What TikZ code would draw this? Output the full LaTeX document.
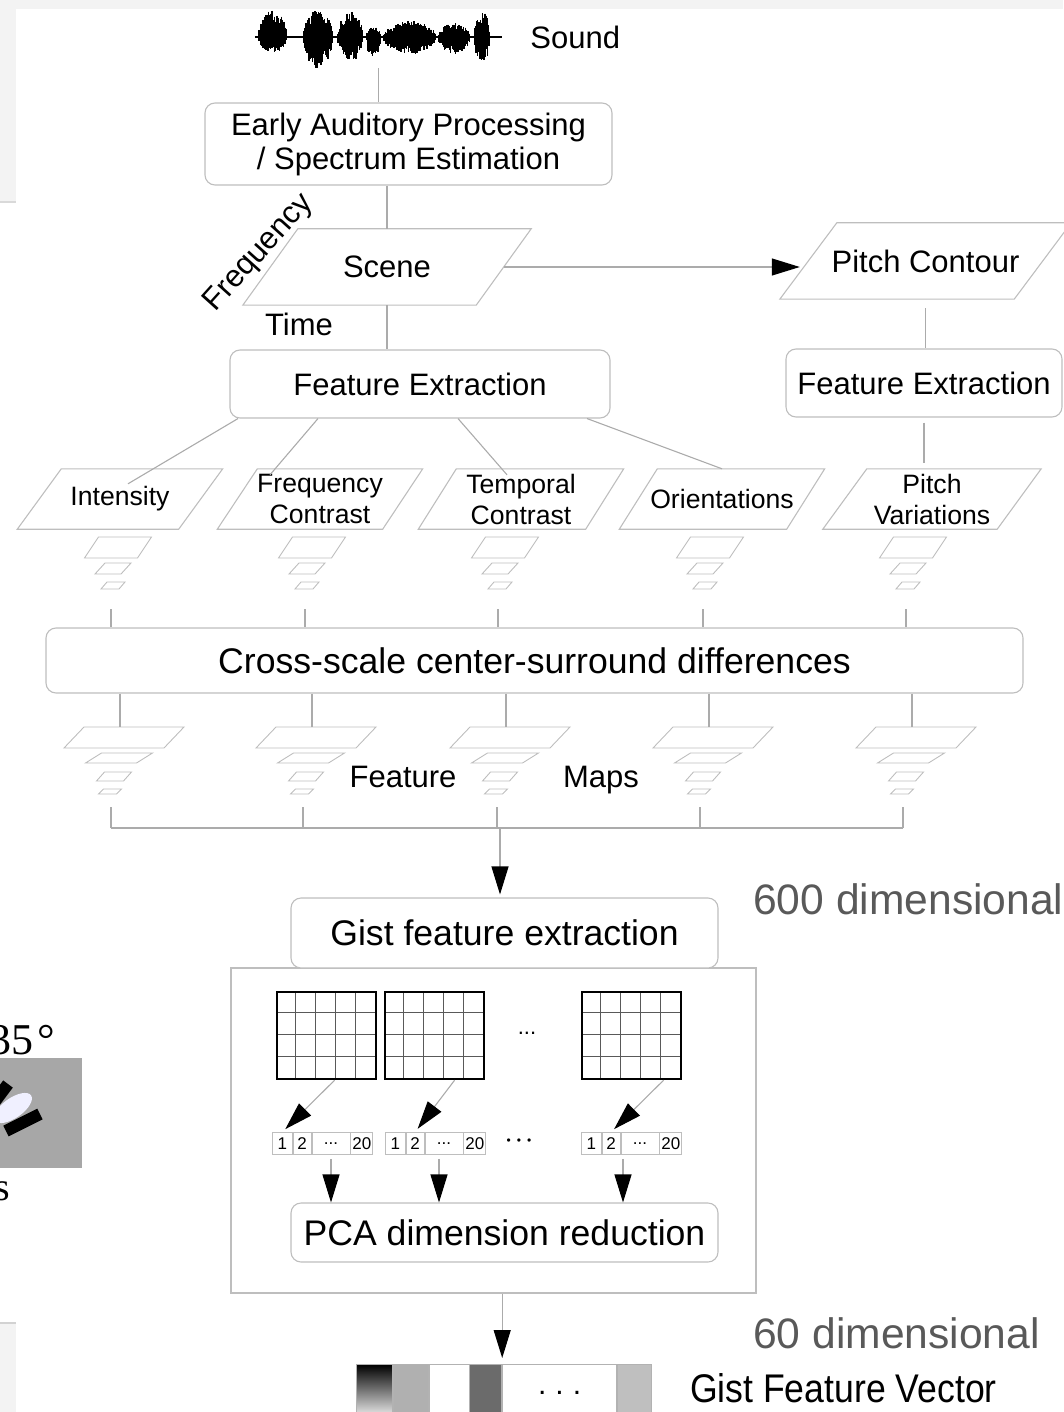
\documentclass[tikz,border=0pt]{standalone}
\usepackage{graphicx}
\usepackage{fontspec}
\setmainfont{Liberation Sans}
\newfontfamily\serifpart{Liberation Serif}
\usetikzlibrary{arrows.meta, positioning}

\definecolor{linegray}{HTML}{ABABAB}
\definecolor{boxgray}{HTML}{BEBEBE}
\definecolor{labelgray}{HTML}{595959}
\definecolor{panelgray}{HTML}{F3F3F3}
\definecolor{stimgray}{HTML}{A7A7A7}

% one slanted plate of a scale pyramid: centre x, top y, side, height, slant
\newcommand{\scaleplate}[5]{%
  \draw[boxgray, line width=0.9pt] (#1-#3/2-#5/2,#2+#4) -- ++(#3,0) -- ++(#5,-#4) -- ++(-#3,0) -- cycle;}
% slanted outline round a named node: node, slant
\newcommand{\slabedge}[2]{%
  \draw[boxgray, line width=1.1pt] (#1.south west) -- ([xshift=-#2]#1.south east) -- (#1.north east) -- ([xshift=#2]#1.north west) -- cycle;}

\begin{document}
\begin{tikzpicture}[
    x=1pt, y=-1pt,
    conn/.style={draw=linegray, line width=1.1pt},
    box/.style={draw=boxgray, rounded corners=10pt, line width=1.1pt, fill=white, align=center, inner sep=0pt},
    slab/.style={inner sep=0pt, align=center},
    bigtext/.style={font=\fontsize{31}{34}\selectfont, inner sep=0pt},
    midtext/.style={font=\fontsize{26.6}{31}\selectfont, inner sep=0pt},
    largetext/.style={font=\fontsize{35.6}{40}\selectfont, inner sep=0pt},
    dimtext/.style={font=\fontsize{42.6}{48}\selectfont, text=labelgray, inner sep=0pt},
    featslab/.style={slab, midtext, minimum width=205pt, minimum height=60pt},
    veccell/.style={draw=boxgray, line width=0.8pt, minimum height=22pt, inner sep=0pt, font=\fontsize{17}{17}\selectfont},
    vcell/.style={draw=gray!60, line width=0.8pt, minimum height=56pt, inner sep=0pt},
    >={Triangle[length=28pt, width=17pt, color=black]}
]
\useasboundingbox (0,0) rectangle (1063,1412);

% edges of the screen capture
\fill[panelgray] (0,0) rectangle (1063,9);
\fill[panelgray] (0,9) rectangle (16,201);
\draw[gray!30, line width=1.5pt] (0,202) -- (16,202);
\fill[panelgray] (0,1323) rectangle (16,1412);
\draw[gray!35, line width=2pt] (0,1323) -- (16,1323);

% stimulus fragment on the left
\node[font=\serifpart\fontsize{44}{44}\selectfont, anchor=east, inner sep=0pt] (deg) at (55,1040) {35\hspace{4pt}°};
\fill[stimgray] (0,1058) rectangle (82,1168);
\fill[blue!6, rotate around={35:(13,1108)}] (13,1108) ellipse (22 and 10);
\draw[line width=12pt] (-10,1108) -- (8,1084);
\draw[line width=12pt] (6,1131) -- (40,1114);
\node[font=\serifpart\fontsize{40}{40}\selectfont, anchor=base east, inner sep=0pt] (cut) at (10,1200) {s};

% sound waveform
\node[minimum width=247pt, minimum height=62pt, inner sep=0pt] (wave) at (378.5,37) {};
\draw[line width=1.3pt] (wave.west) -- (wave.east);
\pgfmathsetseed{7}
\foreach \wbeg/\wend/\wup/\wdn in {258/287/27/16, 303/333/27/32, 337/363/25/25, 366/381/10/23, 383/436/16/18, 438/470/14/17, 474/490/26/28}{
  \foreach \xx in {\wbeg,...,\wend}{
    \pgfmathsetmacro{\env}{sqrt(abs(sin(180*(\xx-\wbeg)/(\wend-\wbeg))))}
    \draw[line width=1.4pt] (\xx,{37-\wup*\env*(0.3+0.7*rnd)}) -- (\xx,{37+\wdn*\env*(0.3+0.7*rnd)});
    \draw[line width=0.9pt] (\xx+0.5,{37-\wup*\env*(0.3+0.7*rnd)}) -- (\xx+0.5,{37+\wdn*\env*(0.3+0.7*rnd)});
  }
}
\node[bigtext, right=28pt of wave] (sound) {Sound};

% front end
\node[box, bigtext, minimum width=407pt, minimum height=82pt] (early) at (408.5,144) {Early Auditory Processing\\/ Spectrum Estimation};
\draw[conn] (wave.south) -- (wave.south |- early.north);

\node[slab, bigtext, minimum width=288pt, minimum height=76pt] (scene) at (387,267) {Scene};
\slabedge{scene}{55pt}
\draw[conn] (early.south -| scene.north) -- (scene.north);
\node[bigtext, rotate=48] (freq) at (259,253) {Frequency};
\node[bigtext] (time) at (299,324) {Time};

\node[slab, bigtext, minimum width=291pt, minimum height=76pt] (pitch) at (925.5,261) {Pitch Contour};
\slabedge{pitch}{57pt}
\coordinate (scenemid) at ([xshift=-27pt]scene.east);
\coordinate (pitchmid) at ([xshift=28pt]pitch.west);
\draw[conn, ->, shorten >=8pt] (scenemid) -- (scenemid -| pitchmid);

\node[box, bigtext, minimum width=380pt, minimum height=68pt] (fe) at (420,384) {Feature Extraction};
\draw[conn] (scene.south) -- (scene.south |- fe.north);
\node[box, bigtext, minimum width=276pt, minimum height=68pt] (fe2) at (924,383) {Feature Extraction};
\draw[conn, shorten <=9pt] (pitch.south) -- (pitch.south |- fe2.north);

% feature channels
\node[featslab] (int) at (120,499) {Intensity};
\node[featslab] (fc) at (320,499) {Frequency\\Contrast};
\node[featslab] (tc) at (521,499) {Temporal\\Contrast};
\node[featslab] (ori) at (722,499) {Orientations};
\node[featslab, minimum width=218pt] (pv) at (932,499) {Pitch\\Variations};
\slabedge{int}{44pt}
\slabedge{fc}{40pt}
\slabedge{tc}{38pt}
\slabedge{ori}{38pt}
\slabedge{pv}{44pt}
\draw[conn] ([xshift=-182pt]fe.south) -- ([xshift=8pt, yshift=-15pt]int.north);
\draw[conn] ([xshift=-102pt]fe.south) -- ([xshift=-50pt, yshift=-6pt]fc.north);
\draw[conn] ([xshift=38pt]fe.south) -- ([xshift=-14pt, yshift=-6pt]tc.north);
\draw[conn] ([xshift=167pt]fe.south) -- (ori.north);
\draw[conn, shorten <=5pt, shorten >=6pt] (fe2.south) -- (fe2.south |- pv.north);

\node[box, largetext, minimum width=977pt, minimum height=65pt] (cs) at (534.5,660.5) {Cross-scale center-surround differences};

% pyramids of each channel
\foreach \cx [count=\idx] in {113,307,500,705,908}{
  \scaleplate{\cx+5}{537}{53}{21}{14}
  \scaleplate{\cx}{563}{26}{11}{10}
  \scaleplate{\cx}{582}{18}{7}{6}
  \coordinate (pyr\idx) at (\cx-2,609);
  \draw[conn] (pyr\idx) -- (pyr\idx |- cs.north);
}

% feature maps
\coordinate (join) at (500,828);
\foreach \cx [count=\idx] in {124,316,510,713,916}{
  \scaleplate{\cx}{727}{100}{21}{20}
  \scaleplate{\cx-5}{753}{51}{10}{16}
  \scaleplate{\cx-10}{772}{27}{9}{8}
  \scaleplate{\cx-14}{789}{18}{5}{5}
  \coordinate (maptop\idx) at (\cx-4,727);
  \coordinate (mapbot\idx) at (\cx-13,807);
  \draw[conn] (cs.south -| maptop\idx) -- (maptop\idx);
  \draw[conn] (mapbot\idx) -- (mapbot\idx |- join);
}
\draw[conn] (mapbot1 |- join) -- (mapbot5 |- join);
\node[bigtext, anchor=base] (featlbl) at (403,787) {Feature};
\node[bigtext, anchor=base] (mapslbl) at (601,787) {Maps};

% gist stage
\node[draw=boxgray, line width=1.1pt, minimum width=525pt, minimum height=325pt, inner sep=0pt] (panel) at (493.5,1130.5) {};
\node[box, largetext, minimum width=427pt, minimum height=70pt] (gist) at (504.5,933) {Gist feature extraction};
\draw[conn, ->, shorten >=3pt] (join) -- (join |- gist.north);
\node[dimtext, anchor=base west] (dim600) at (753,914) {600 dimensional};

\foreach \gx [count=\gi] in {276,384,581}{
  \foreach \k in {1,...,4} \draw[gray!70!black, line width=0.7pt] (\gx+\k*19.8,991) -- (\gx+\k*19.8,1078);
  \foreach \k in {1,2,3} \draw[gray!70!black, line width=0.7pt] (\gx,991+\k*21.75) -- (\gx+99,991+\k*21.75);
  \node[draw=black, line width=2.2pt, minimum width=99pt, minimum height=87pt, inner sep=0pt, anchor=north west] (grid\gi) at (\gx,991) {};
}
\node[font=\fontsize{22}{22}\selectfont, inner sep=0pt] (griddots) at (527,1033) {...};

\foreach \vx [count=\vi] in {272,385,581}{
  \node[veccell, minimum width=20pt, anchor=north west] (va\vi) at (\vx,1132) {1};
  \node[veccell, minimum width=18pt, right=0pt of va\vi] (vb\vi) {2};
  \node[veccell, minimum width=38pt, right=0pt of vb\vi] (vc\vi) {...};
  \node[veccell, minimum width=22pt, right=0pt of vc\vi] (vd\vi) {20};
}
\node[font=\fontsize{12}{12}\selectfont, inner sep=0pt] (vecdots) at (519,1142) {\textbullet\hspace{6pt}\textbullet\hspace{6pt}\textbullet};
\draw[conn, ->, shorten >=4pt] ([xshift=8pt]grid1.south) -- (va1.north);
\draw[conn, ->, shorten >=4pt] ([xshift=20pt]grid2.south) -- (vb2.north);
\draw[conn, ->, shorten >=4pt] ([xshift=32pt]grid3.south) -- (vb3.north);

\node[box, largetext, minimum width=427pt, minimum height=59pt] (pca) at (504.5,1232.5) {PCA dimension reduction};
\draw[conn, ->, shorten <=4pt] (vc1.south) -- (vc1.south |- pca.north);
\draw[conn, ->, shorten <=4pt] ([xshift=-5pt]vc2.south) -- ([xshift=-5pt]vc2.south |- pca.north);
\draw[conn, ->, shorten <=4pt] ([xshift=-17pt]vc3.south) -- ([xshift=-17pt]vc3.south |- pca.north);

% output vector
\node[vcell, minimum width=36pt, anchor=north west, top color=black, bottom color=white] (gv1) at (356,1364) {};
\node[vcell, minimum width=35pt, fill=black!31, right=0pt of gv1] (gv2) {};
\node[vcell, minimum width=40pt, fill=white, right=0pt of gv2] (gv3) {};
\node[vcell, minimum width=32pt, fill=black!58, right=0pt of gv3] (gv4) {};
\node[vcell, minimum width=114pt, fill=white, right=0pt of gv4, font=\fontsize{30}{30}\selectfont] (gv5) {.\hspace{9pt}.\hspace{9pt}.};
\node[vcell, minimum width=34pt, fill=black!25, right=0pt of gv5] (gv6) {};
\draw[conn, ->, shorten >=6pt] (gv4.north east |- panel.south) -- (gv4.north east);
\node[dimtext, anchor=base west] (dim60) at (753,1348) {60 dimensional};
\node[font=\fontsize{40}{40}\selectfont, inner sep=0pt, right=38pt of gv6, yshift=4pt] (gistvec) {\scalebox{0.89}[1]{Gist Feature Vector}};
\end{tikzpicture}
\end{document}
